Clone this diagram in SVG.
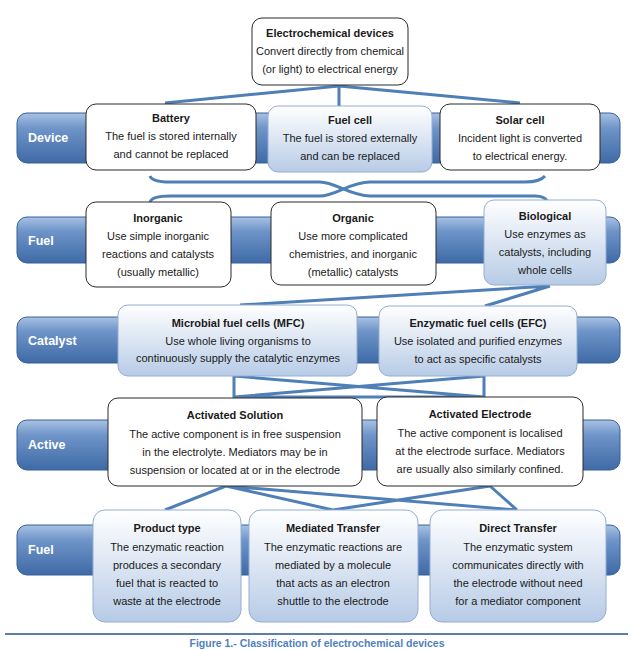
<svg xmlns="http://www.w3.org/2000/svg" width="633" height="650" viewBox="0 0 633 650">
<defs>
<linearGradient id="band" x1="0" y1="0" x2="0" y2="1"><stop offset="0" stop-color="#a9c2e3"/><stop offset="0.3" stop-color="#6f95c9"/><stop offset="1" stop-color="#3f6aa6"/></linearGradient>
<linearGradient id="lb" x1="0" y1="0" x2="0" y2="1"><stop offset="0" stop-color="#ffffff"/><stop offset="1" stop-color="#b7cbe6"/></linearGradient>
<linearGradient id="db" x1="0" y1="0" x2="0" y2="1"><stop offset="0" stop-color="#f2f6fb"/><stop offset="1" stop-color="#a8c0e0"/></linearGradient>
</defs>
<style>
text{font-family:"Liberation Sans",Arial,sans-serif;font-size:11px;fill:#1a1a1a;text-anchor:middle}
.t{font-weight:bold}
.lab{font-weight:bold;fill:#fff;font-size:12.5px;text-anchor:start}
.band{fill:url(#band);stroke:#36609a;stroke-width:1}
.w{fill:#fff;stroke:#2b2b2b;stroke-width:1}
.l{fill:url(#lb);stroke:#93aed3;stroke-width:1}
.c{fill:none;stroke:#4f7fb7;stroke-width:3}
</style>
<g id="bands">
<rect class="band" x="17" y="113" width="603" height="50" rx="10"/><text class="lab" x="28" y="142">Device</text>
<rect class="band" x="17" y="217" width="603" height="46" rx="10"/><text class="lab" x="28" y="245">Fuel</text>
<rect class="band" x="17" y="317" width="603" height="46" rx="10"/><text class="lab" x="28" y="345">Catalyst</text>
<rect class="band" x="17" y="420" width="603" height="50" rx="10"/><text class="lab" x="28" y="449">Active</text>
<rect class="band" x="17" y="525" width="603" height="50" rx="10"/><text class="lab" x="28" y="554">Fuel</text>
</g>
<g id="connectors">
<path class="c" d="M339,86 L165,103 M339,86 L339,106 M339,86 L520,103"/>
<path class="c" d="M150,176 Q152,182 170,182 L320,182 C335,182 350,196 370,196 L535,196 Q545,196 548,202"/>
<path class="c" d="M150,202 Q152,196 170,196 L320,196 C335,196 350,182 370,182 L525,182 Q540,182 545,176"/>
<path class="c" d="M550,286 L240,305 M550,286 L485,306"/>
<path class="c" d="M234,376 L234,397 L484,397 L484,376 M234,376 L484,397 M484,376 L234,397"/>
<path class="c" d="M226,486 L165,510 M226,486 L333,510 M226,486 L517,510 M490,486 L333,510 M490,486 L517,510"/>
</g>
<g id="n-top"><rect class="w" x="252" y="18" width="156" height="67" rx="10"/>
<text class="t" x="330" y="37">Electrochemical devices</text><text x="330" y="55">Convert directly from chemical</text><text x="330" y="73">(or light) to electrical energy</text></g>
<g id="n-battery"><rect class="w" x="86" y="104" width="170" height="66" rx="10"/>
<text class="t" x="171" y="122">Battery</text><text x="171" y="140">The fuel is stored internally</text><text x="171" y="158">and cannot be replaced</text></g>
<g id="n-fuelcell"><rect class="l" x="268" y="106" width="164" height="66" rx="10"/>
<text class="t" x="350" y="124">Fuel cell</text><text x="350" y="142">The fuel is stored externally</text><text x="350" y="160">and can be replaced</text></g>
<g id="n-solar"><rect class="w" x="440" y="104" width="160" height="66" rx="10"/>
<text class="t" x="520" y="124">Solar cell</text><text x="520" y="142">Incident light is converted</text><text x="520" y="160">to electrical energy.</text></g>
<g id="n-inorganic"><rect class="w" x="86" y="202" width="145" height="85" rx="10"/>
<text class="t" x="158" y="222">Inorganic</text><text x="158" y="240">Use simple inorganic</text><text x="158" y="258">reactions and catalysts</text><text x="158" y="276">(usually metallic)</text></g>
<g id="n-organic"><rect class="w" x="271" y="202" width="165" height="83" rx="10"/>
<text class="t" x="353" y="222">Organic</text><text x="353" y="240">Use more complicated</text><text x="353" y="258">chemistries, and inorganic</text><text x="353" y="276">(metallic) catalysts</text></g>
<g id="n-bio"><rect class="l" x="484" y="200" width="122" height="85" rx="10"/>
<text class="t" x="545" y="220">Biological</text><text x="545" y="238">Use enzymes as</text><text x="545" y="256">catalysts, including</text><text x="545" y="274">whole cells</text></g>
<g id="n-mfc"><rect class="l" x="118" y="305" width="239" height="71" rx="10"/>
<text class="t" x="238" y="327">Microbial fuel cells (MFC)</text><text x="238" y="345">Use whole living organisms to</text><text x="238" y="362">continuously supply the catalytic enzymes</text></g>
<g id="n-efc"><rect class="l" x="379" y="306" width="198" height="70" rx="10"/>
<text class="t" x="478" y="327">Enzymatic fuel cells (EFC)</text><text x="478" y="345">Use isolated and purified enzymes</text><text x="478" y="363">to act as specific catalysts</text></g>
<g id="n-sol"><rect class="w" x="108" y="398" width="254" height="88" rx="10"/>
<text class="t" x="235" y="419">Activated Solution</text><text x="235" y="438">The active component is in free suspension</text><text x="235" y="456">in the electrolyte. Mediators may be in</text><text x="235" y="474">suspension or located at or in the electrode</text></g>
<g id="n-elec"><rect class="w" x="377" y="397" width="206" height="89" rx="10"/>
<text class="t" x="480" y="418">Activated Electrode</text><text x="480" y="437">The active component is localised</text><text x="480" y="455">at the electrode surface. Mediators</text><text x="480" y="473">are usually also similarly confined.</text></g>
<g id="n-product"><rect class="l" x="93" y="510" width="148" height="112" rx="12"/>
<text class="t" x="167" y="532">Product type</text><text x="167" y="551">The enzymatic reaction</text><text x="167" y="569">produces a secondary</text><text x="167" y="587">fuel that is reacted to</text><text x="167" y="605">waste at the electrode</text></g>
<g id="n-mediated"><rect class="l" x="249" y="510" width="169" height="112" rx="12"/>
<text class="t" x="333" y="532">Mediated Transfer</text><text x="333" y="551">The enzymatic reactions are</text><text x="333" y="569">mediated by a molecule</text><text x="333" y="587">that acts as an electron</text><text x="333" y="605">shuttle to the electrode</text></g>
<g id="n-direct"><rect class="l" x="430" y="510" width="176" height="112" rx="12"/>
<text class="t" x="518" y="532">Direct Transfer</text><text x="518" y="551">The enzymatic system</text><text x="518" y="569">communicates directly with</text><text x="518" y="587">the electrode without need</text><text x="518" y="605">for a mediator component</text></g>
<g id="caption"><line x1="5" y1="634" x2="628" y2="634" stroke="#5b7fa8" stroke-width="2"/>
<text x="317" y="647" style="font-size:10.5px;font-weight:bold;fill:#4f81bd">Figure 1.- Classification of electrochemical devices</text></g>
</svg>
